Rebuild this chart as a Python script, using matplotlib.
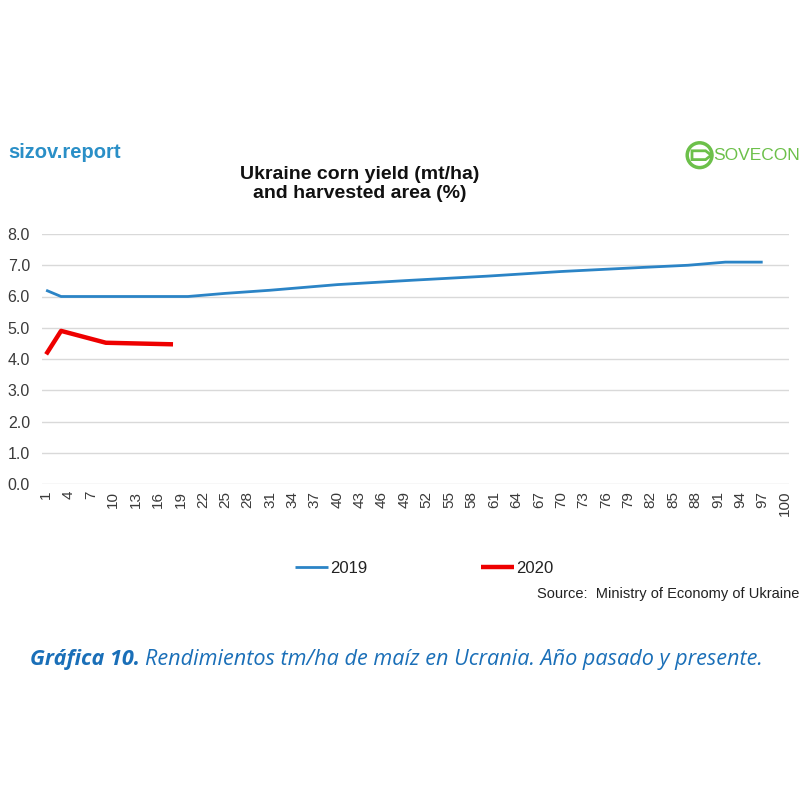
import numpy as np
import matplotlib.pyplot as plt
from matplotlib.patches import Circle, Polygon

# harvest progress categories (1..100) with the values
tick_days = list(range(1, 101, 3))

x_2019 = [1, 3, 20, 25, 31, 40, 50, 60, 70, 80, 87, 92, 97]
y_2019 = [6.2, 6.0, 6.0, 6.1, 6.2, 6.38, 6.52, 6.65, 6.8, 6.92, 7.0, 7.1, 7.1]

x_2020 = [1, 3, 9, 18]
y_2020 = [4.15, 4.9, 4.52, 4.47]

y_ticks = [0, 1, 2, 3, 4, 5, 6, 7, 8]

font = 'Liberation Sans'
blue = '#2b84c6'
red = '#ee0000'
label_col = '#3a3a3a'

fig = plt.figure(figsize=(8, 8), dpi=100)
fig.patch.set_facecolor('white')

ax = fig.add_axes([0.053, 0.395, 0.933, 0.3125])
ax.plot(x_2019, y_2019, color=blue, lw=2.0, label='2019', solid_capstyle='butt')
ax.plot(x_2020, y_2020, color=red, lw=3.2, label='2020', solid_capstyle='butt')

ax.set_xlim(0.5, 100.5)
ax.set_ylim(0, 8)
ax.set_yticks(y_ticks)
ax.set_yticklabels([f"{v:.1f}" for v in y_ticks], fontsize=11.5, color=label_col, family=font)
ax.set_xticks(tick_days)
ax.set_xticklabels([str(d) for d in tick_days], rotation=90, fontsize=11,
                   color=label_col, family=font)
ax.tick_params(axis='y', length=0, pad=9)
ax.tick_params(axis='x', length=0, pad=5)
ax.yaxis.grid(True, color='#d9d9d9', lw=1)
ax.set_axisbelow(True)
for s in ax.spines.values():
    s.set_visible(False)

leg = fig.legend(loc='center', bbox_to_anchor=(0.53, 0.289), ncol=2, frameon=False,
                 handlelength=2.0, handletextpad=0.1, columnspacing=6.8,
                 prop={'family': font, 'size': 12})
for t in leg.get_texts():
    t.set_color('#222222')

fig.text(0.999, 0.257, 'Source:  Ministry of Economy of Ukraine', ha='right', va='center',
         fontsize=10.5, family=font, color='#222222')

# titles and branding
fig.text(0.45, 0.77, 'Ukraine corn yield (mt/ha)\nand harvested area (%)', ha='center',
         va='center', fontsize=14, fontweight='bold', family=font,
         color='#111111', linespacing=1.2)
fig.text(0.01, 0.809, 'sizov.report', ha='left', va='center', fontsize=14.5,
         fontweight='bold', family=font, color='#2a8fc7')

green = '#6cc04a'
fig.patches.append(Circle((0.8745, 0.806), 0.0155, transform=fig.transFigure,
                          fill=False, ec=green, lw=2.5))
fig.patches.append(Polygon([(0.865, 0.8115), (0.882, 0.8115), (0.889, 0.806),
                            (0.882, 0.8005), (0.865, 0.8005)], closed=True,
                           transform=fig.transFigure, fill=True, fc='white', ec=green, lw=2))
fig.text(0.891, 0.806, 'SOVECON', ha='left', va='center', fontsize=12.5,
         family=font, color=green)

cap_col = '#1a6fb8'
cap_size = 15.6
t1 = fig.text(0.038, 0.176, 'Gráfica 10.', ha='left', va='center', fontsize=cap_size,
              fontweight='bold', style='italic', family='Open Sans', color=cap_col)
fig.canvas.draw()
bb = t1.get_window_extent()
fig.text(bb.x1 / 800 + 0.006, 0.176,
         'Rendimientos tm/ha de maíz en Ucrania. Año pasado y presente.',
         ha='left', va='center', fontsize=cap_size, style='italic', family='Open Sans',
         color=cap_col)

fig.savefig('out.png', dpi=100, facecolor='white')
